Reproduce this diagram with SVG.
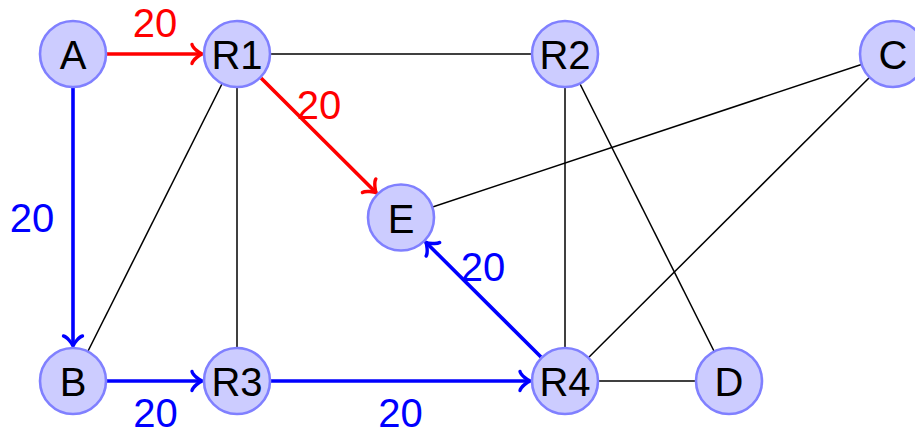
<svg xmlns="http://www.w3.org/2000/svg" width="915" height="434" viewBox="0 0 915 434">
<style>
.node circle{fill:#ccccff;stroke:#8080ff;stroke-width:2.6}
.node text{font-family:"Liberation Sans",Arial,sans-serif;font-size:40px;fill:#000;text-anchor:middle}
.plain{stroke:#000;stroke-width:1.5;fill:none}
.red{stroke:#ff0000;stroke-width:3.6;fill:none}
.blue{stroke:#0000ff;stroke-width:3.6;fill:none}
.lbl{font-family:"Liberation Sans",Arial,sans-serif;font-size:40px;text-anchor:middle}
</style>
<defs>
<marker id="arrR" markerUnits="userSpaceOnUse" viewBox="-14 -14 20 28" refX="0" refY="0" markerWidth="20" markerHeight="28" orient="auto" overflow="visible">
<path d="M-10,-9.5 C-9.3,-6 -2,-0.6 0,0 C-2,0.6 -9.3,6 -10,9.5" fill="none" stroke="#ff0000" stroke-width="3.4" stroke-linecap="round" stroke-linejoin="round"/>
</marker>
<marker id="arrB" markerUnits="userSpaceOnUse" viewBox="-14 -14 20 28" refX="0" refY="0" markerWidth="20" markerHeight="28" orient="auto" overflow="visible">
<path d="M-10,-9.5 C-9.3,-6 -2,-0.6 0,0 C-2,0.6 -9.3,6 -10,9.5" fill="none" stroke="#0000ff" stroke-width="3.4" stroke-linecap="round" stroke-linejoin="round"/>
</marker>
</defs>
<g id="connectors">
<line class="plain" x1="237" y1="54" x2="565" y2="54"/>
<line class="plain" x1="237" y1="54" x2="237" y2="381"/>
<line class="plain" x1="237" y1="54" x2="73" y2="381"/>
<line class="plain" x1="565" y1="54" x2="565" y2="381"/>
<line class="plain" x1="565" y1="54" x2="729" y2="381"/>
<line class="plain" x1="893" y1="54" x2="401" y2="217.5"/>
<line class="plain" x1="893" y1="54" x2="565" y2="381"/>
<line class="plain" x1="565" y1="381" x2="729" y2="381"/>
<line class="red" x1="107" y1="54" x2="202" y2="54" marker-end="url(#arrR)"/>
<line class="red" x1="261" y1="78" x2="376.2" y2="192.8" marker-end="url(#arrR)"/>
<line class="blue" x1="73" y1="88" x2="73" y2="346" marker-end="url(#arrB)"/>
<line class="blue" x1="107" y1="381" x2="202" y2="381" marker-end="url(#arrB)"/>
<line class="blue" x1="271" y1="381" x2="530" y2="381" marker-end="url(#arrB)"/>
<line class="blue" x1="541" y1="357" x2="425.8" y2="242.2" marker-end="url(#arrB)"/>
<text class="lbl" x="155" y="37" fill="#ff0000">20</text>
<text class="lbl" x="319" y="119" fill="#ff0000">20</text>
<text class="lbl" x="32" y="232" fill="#0000ff">20</text>
<text class="lbl" x="155.5" y="427" fill="#0000ff">20</text>
<text class="lbl" x="400.5" y="427" fill="#0000ff">20</text>
<text class="lbl" x="483" y="281" fill="#0000ff">20</text>
</g>
<g id="A" class="node"><circle cx="73" cy="54" r="33"/><text x="73" y="69">A</text></g>
<g id="R1" class="node"><circle cx="237" cy="54" r="33"/><text x="237" y="69">R1</text></g>
<g id="R2" class="node"><circle cx="565" cy="54" r="33"/><text x="565" y="69">R2</text></g>
<g id="C" class="node"><circle cx="893" cy="54" r="33"/><text x="893" y="69">C</text></g>
<g id="E" class="node"><circle cx="401" cy="217.5" r="33"/><text x="401" y="232.5">E</text></g>
<g id="B" class="node"><circle cx="73" cy="381" r="33"/><text x="73" y="396">B</text></g>
<g id="R3" class="node"><circle cx="237" cy="381" r="33"/><text x="237" y="396">R3</text></g>
<g id="R4" class="node"><circle cx="565" cy="381" r="33"/><text x="565" y="396">R4</text></g>
<g id="D" class="node"><circle cx="729" cy="381" r="33"/><text x="729" y="396">D</text></g>
</svg>
